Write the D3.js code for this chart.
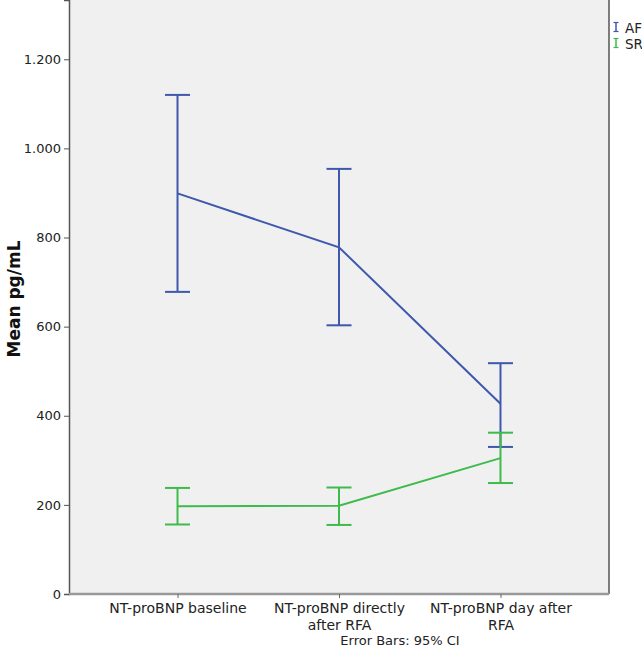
<!DOCTYPE html>
<html>
<head>
<meta charset="utf-8">
<script src="https://cdn.jsdelivr.net/npm/d3@7"></script>
<style>
  body { margin: 0; background: #fff; }
  text { font-family: "DejaVu Sans", sans-serif; }
</style>
</head>
<body>
<div id="chart"></div>
<script>
const categories = ['NT-proBNP baseline', 'NT-proBNP directly after RFA', 'NT-proBNP day after RFA'];
const categoryLines = [['NT-proBNP baseline'], ['NT-proBNP directly', 'after RFA'], ['NT-proBNP day after', 'RFA']];
const groups = ['AF', 'SR'];
const afMean = [899, 778, 427];
const afLow = [678, 603, 330];
const afHigh = [1120, 954, 518];
const srMean = [197, 198, 305];
const srLow = [156, 155, 249];
const srHigh = [238, 239, 362];
const yTicks = [0, 200, 400, 600, 800, 1000, 1200];

const width = 642, height = 649;
const margin = {top: 0, right: 33, bottom: 55, left: 69};
const colors = {AF: '#3e58ac', SR: '#3dbb4c'};

const svg = d3.select('#chart').append('svg')
    .attr('width', width)
    .attr('height', height);

const x = d3.scalePoint()
    .domain(categories)
    .range([margin.left, width - margin.right])
    .padding(0.672);

const y = d3.scaleLinear()
    .domain([0, 1333])
    .range([height - margin.bottom, margin.top]);

// plot background
svg.append('rect')
    .attr('x', margin.left)
    .attr('y', margin.top)
    .attr('width', width - margin.right - margin.left)
    .attr('height', height - margin.bottom - margin.top)
    .attr('fill', '#f0f0f0')
    .attr('stroke', 'none');

// right border
svg.append('line')
    .attr('x1', width - margin.right).attr('x2', width - margin.right)
    .attr('y1', margin.top).attr('y2', height - margin.bottom)
    .attr('stroke', '#555').attr('stroke-width', 1.5);

// y axis
const yAxis = svg.append('g')
    .attr('transform', `translate(${margin.left},0)`)
    .call(d3.axisLeft(y).tickValues(yTicks).tickSize(5).tickPadding(3)
        .tickFormat(d => d3.format(',')(d).replace(/,/g, '.')));
yAxis.select('.domain').attr('stroke', '#555').attr('stroke-width', 1.5);
yAxis.selectAll('.tick line').attr('stroke', '#555');
yAxis.selectAll('.tick text').attr('font-size', 13).attr('fill', '#222')
    .style('font-family', '"DejaVu Sans", sans-serif');

// x axis
const xAxis = svg.append('g')
    .attr('transform', `translate(0,${height - margin.bottom})`)
    .call(d3.axisBottom(x).tickSize(4).tickFormat(''));
xAxis.select('.domain').attr('stroke', '#999').attr('stroke-width', 2.5)
    .attr('d', `M${margin.left},0H${width - margin.right}`);
xAxis.selectAll('.tick line').attr('stroke', '#666');

xAxis.selectAll('.tick').each(function(d, i) {
  const t = d3.select(this).append('text')
      .attr('fill', '#222')
      .attr('font-size', 14)
      .attr('text-anchor', 'middle');
  categoryLines[i].forEach((line, j) => {
    t.append('tspan').attr('x', 0).attr('y', 19 + j * 17).text(line);
  });
});

// y label
svg.append('text')
    .attr('transform', `translate(20,${(height - margin.bottom) / 2 + 2}) rotate(-90)`)
    .attr('text-anchor', 'middle')
    .attr('font-size', 17)
    .attr('font-weight', 'bold')
    .attr('fill', '#111')
    .text('Mean pg/mL');

// footnote
svg.append('text')
    .attr('x', 400)
    .attr('y', 645)
    .attr('text-anchor', 'middle')
    .attr('font-size', 13)
    .attr('fill', '#222')
    .text('Error Bars: 95% CI');

// series
const series = [
  {name: 'AF', mean: afMean, low: afLow, high: afHigh},
  {name: 'SR', mean: srMean, low: srLow, high: srHigh}
];
const cap = 12.5;

series.forEach(s => {
  const g = svg.append('g').attr('stroke', colors[s.name]).attr('stroke-width', 2).attr('fill', 'none');
  const line = d3.line().x((d, i) => x(categories[i])).y(d => y(d));
  g.append('path').attr('d', line(s.mean));
  categories.forEach((c, i) => {
    const cx = x(c);
    g.append('line').attr('x1', cx).attr('x2', cx).attr('y1', y(s.low[i])).attr('y2', y(s.high[i]));
    g.append('line').attr('x1', cx - cap).attr('x2', cx + cap).attr('y1', y(s.low[i])).attr('y2', y(s.low[i]));
    g.append('line').attr('x1', cx - cap).attr('x2', cx + cap).attr('y1', y(s.high[i])).attr('y2', y(s.high[i]));
  });
});

// legend
const legend = svg.append('g').attr('transform', 'translate(612,22)');
groups.forEach((gname, i) => {
  const row = legend.append('g').attr('transform', `translate(0,${i * 16})`);
  row.append('line').attr('x1', 4).attr('x2', 4).attr('y1', 0).attr('y2', 10)
      .attr('stroke', colors[gname]).attr('stroke-width', 1.5);
  row.append('line').attr('x1', 1.5).attr('x2', 6.5).attr('y1', 0.5).attr('y2', 0.5)
      .attr('stroke', colors[gname]).attr('stroke-width', 1.2);
  row.append('line').attr('x1', 1.5).attr('x2', 6.5).attr('y1', 9.5).attr('y2', 9.5)
      .attr('stroke', colors[gname]).attr('stroke-width', 1.2);
  row.append('text').attr('x', 13).attr('y', 10.5)
      .attr('font-size', 13.5).attr('fill', '#222').text(gname);
});
</script>
</body>
</html>
